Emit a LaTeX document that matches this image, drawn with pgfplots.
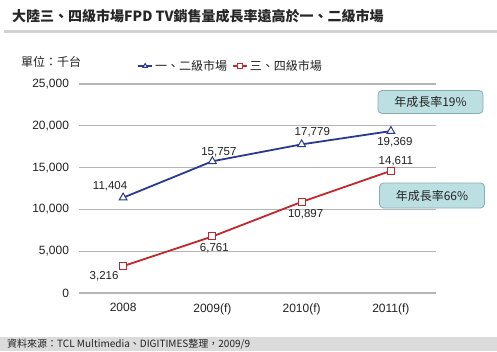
\documentclass[border=0pt]{standalone}
\usepackage{pgfplots}
\pgfplotsset{compat=1.18}
\usetikzlibrary{calc}
\usepackage{fontspec}
\setmainfont{Liberation Sans}
\newfontfamily\cjk{Noto Sans CJK TC}
\definecolor{blueline}{HTML}{2B3990}
\definecolor{redline}{HTML}{C1272D}
\definecolor{boxfill}{HTML}{BCDFE2}
\definecolor{boxdraw}{HTML}{88AEB4}
\definecolor{gridc}{HTML}{B5B5B5}
\definecolor{txt}{HTML}{222222}
\begin{document}
\begin{tikzpicture}[x=1pt,y=1pt]
\path[use as bounding box, fill=white] (0,0) rectangle (497,351);
\fill[gray!35] (4,318) rectangle (497,321);
\node[anchor=west, inner sep=0pt, font=\cjk\bfseries\fontsize{14}{14}\selectfont, text=black!85] at (12,335) {大陸三、四級市場FPD TV銷售量成長率遠高於一、二級市場};
\node[anchor=west, inner sep=0pt, font=\cjk\fontsize{12}{12}\selectfont, text=txt] at (21,289) {單位：千台};
\fill[gray!28] (0,0) rectangle (497,14);
\node[anchor=west, inner sep=0pt, font=\cjk\fontsize{10}{10}\selectfont, text=txt] at (7,7) {資料來源：TCL Multimedia、DIGITIMES整理，2009/9};
\begin{axis}[at={(78.5pt,58pt)}, anchor=south west, scale only axis,
  width=357pt, height=209pt,
  xmin=-0.5, xmax=3.5, ymin=0, ymax=25000,
  xtick={0,1,2,3}, xticklabels={2008,2009(f),2010(f),2011(f)},
  ytick={0,5000,10000,15000,20000,25000},
  scaled y ticks=false,
  /pgf/number format/assume math mode=true,
  /pgf/number format/1000 sep={,},
  axis line style={draw=none}, tick style={draw=none},
  ymajorgrids, grid style={gridc, line width=1.3pt},
  ticklabel style={font=\fontsize{12}{12}\selectfont, text=txt},
  yticklabel style={xshift=-6pt},
  xticklabel style={yshift=-7pt},
  clip=false,
  legend style={at={(0.164,1.086)}, anchor=west, draw=none, fill=none,
    legend columns=2, font=\cjk\fontsize{12}{12}\selectfont, text=txt,
    /tikz/every even column/.append style={column sep=3pt},
    inner sep=0pt},
  legend image code/.code={\draw[#1] (0pt,0pt) -- (14pt,0pt); \draw[#1, only marks, mark size=2.5pt] plot coordinates {(7pt,0pt)};},
]
\addplot[blueline, line width=1.8pt, mark=triangle*, mark size=4.5pt,
  mark options={fill=white, draw=blueline, line width=1pt, solid}]
  coordinates {(0,11404) (1,15757) (2,17779) (3,19369)};
\addlegendentry{一、二級市場}
\addplot[redline, line width=1.8pt, mark=square*, mark size=3.5pt,
  mark options={fill=white, draw=redline, line width=1pt, solid}]
  coordinates {(0,3216) (1,6761) (2,10897) (3,14611)};
\addlegendentry{三、四級市場}
\begin{scope}[every node/.style={font=\fontsize{11.5}{11.5}\selectfont, text=txt, inner sep=0pt}]
\node at ($(axis cs:0,11404)+(-13pt,11pt)$) {11,404};
\node at ($(axis cs:1,15757)+(6.5pt,9pt)$) {15,757};
\node at ($(axis cs:2,17779)+(10.7pt,12pt)$) {17,779};
\node at ($(axis cs:3,19369)+(4pt,-11pt)$) {19,369};
\node at ($(axis cs:3,14611)+(5pt,10pt)$) {14,611};
\node at ($(axis cs:0,3216)+(-19pt,-10pt)$) {3,216};
\node at ($(axis cs:1,6761)+(2pt,-12pt)$) {6,761};
\node at ($(axis cs:2,10897)+(4pt,-12pt)$) {10,897};
\end{scope}
\end{axis}
\node[draw=boxdraw, fill=boxfill, line width=0.8pt, rounded corners=4pt, minimum width=105pt, minimum height=23pt, font=\cjk\fontsize{12}{12}\selectfont, text=txt] at (430.5,249) {年成長率19\%};
\node[draw=boxdraw, fill=boxfill, line width=0.8pt, rounded corners=4pt, minimum width=105pt, minimum height=25pt, font=\cjk\fontsize{12}{12}\selectfont, text=txt] at (432,155.5) {年成長率66\%};
\end{tikzpicture}
\end{document}
